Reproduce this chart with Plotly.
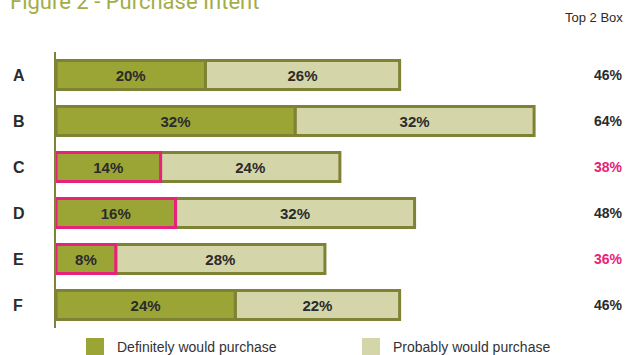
import plotly.graph_objects as go

categories = ["A", "B", "C", "D", "E", "F"]
definitely = [20, 32, 14, 16, 8, 24]
probably = [26, 32, 24, 32, 28, 22]
top2 = [46, 64, 38, 48, 36, 46]
outline_highlight = [False, False, True, True, True, False]
total_highlight = [False, False, True, False, True, False]

DARK = "#9ba536"
LIGHT = "#d4d5a9"
EDGE = "#7e8235"
PINK = "#e8217a"
TXT = "#2b2b2b"
COND = "Liberation Sans Narrow, Arial Narrow, Liberation Sans, Arial, sans-serif"
BOLD = "Liberation Sans, Arial, sans-serif"

W, H = 626, 355
L, R, T, B = 56, 6, 52, 27
plot_h = H - T - B
plot_w = W - L - R

def py(p):
    return (H - B - p) / plot_h

def px(p):
    return (p - L) / plot_w

fig = go.Figure()
fig.add_trace(go.Bar(
    y=categories, x=probably, base=definitely, orientation="h",
    marker=dict(color=LIGHT, line=dict(color=EDGE, width=3)),
    text=[f"{v}%" for v in probably], textposition="inside",
    insidetextanchor="middle",
    textfont=dict(family=BOLD, size=15, color=TXT, weight="bold"),
    name="Probably would purchase", showlegend=False, hoverinfo="skip",
))
fig.add_trace(go.Bar(
    y=categories, x=definitely, orientation="h",
    marker=dict(color=DARK, line=dict(color=[PINK if h else EDGE for h in outline_highlight], width=3)),
    text=[f"{v}%" for v in definitely], textposition="inside",
    insidetextanchor="middle",
    textfont=dict(family=BOLD, size=15, color=TXT, weight="bold"),
    name="Definitely would purchase", showlegend=False, hoverinfo="skip",
))

annotations = []
for c, t, h in zip(categories, top2, total_highlight):
    annotations.append(dict(x=px(625), xref="paper", y=c, yref="y", text=f"<b>{t}%</b>",
                            xanchor="right", yanchor="middle", showarrow=False,
                            font=dict(family=BOLD, size=14, color=PINK if h else TXT)))
for c in categories:
    annotations.append(dict(x=px(11), xref="paper", y=c, yref="y", text=f"<b>{c}</b>",
                            xanchor="left", yanchor="middle", showarrow=False,
                            font=dict(family=BOLD, size=16, color=TXT)))

annotations.append(dict(x=px(8), xref="paper", y=py(1), yref="paper",
                        text="Figure 2 - Purchase Intent", xanchor="left", yanchor="middle",
                        showarrow=False, font=dict(family="Roboto, Liberation Sans, sans-serif", size=22, color="#a3ad48")))
annotations.append(dict(x=px(625), xref="paper", y=py(18), yref="paper",
                        text="Top 2 Box", xanchor="right", yanchor="middle",
                        showarrow=False, font=dict(family=COND, size=13, color=TXT)))

shapes = []
legend_items = [("Definitely would purchase", DARK, 86), ("Probably would purchase", LIGHT, 362)]
for name, col, x0 in legend_items:
    shapes.append(dict(type="rect", xref="paper", yref="paper", x0=px(x0), x1=px(x0 + 18),
                       y0=py(356), y1=py(338), fillcolor=col, line=dict(width=0)))
    annotations.append(dict(x=px(x0 + 29), xref="paper", y=py(347), yref="paper", text=name,
                            xanchor="left", yanchor="middle", showarrow=False,
                            font=dict(family=COND, size=14, color="#333333")))

fig.update_layout(
    width=W, height=H, margin=dict(l=L, r=R, t=T, b=B),
    paper_bgcolor="white", plot_bgcolor="white",
    barmode="overlay", bargap=0.37,
    xaxis=dict(range=[0, 75.5], showgrid=False, zeroline=False, showticklabels=False, showline=False, fixedrange=True),
    yaxis=dict(categoryorder="array", categoryarray=categories, autorange="reversed",
               showgrid=False, zeroline=False, showticklabels=False,
               showline=True, linecolor=EDGE, linewidth=2, fixedrange=True),
    annotations=annotations, shapes=shapes,
    uniformtext=dict(minsize=8, mode="show"),
)

fig.write_html("out.html")
